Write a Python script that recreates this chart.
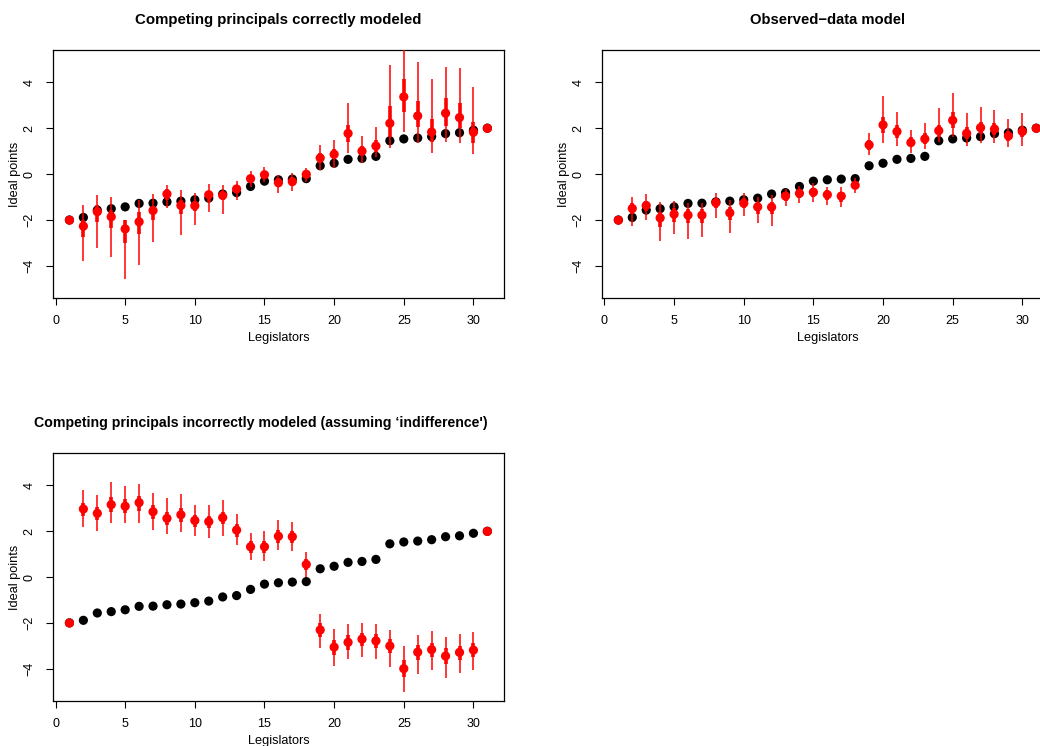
import pandas as pd, numpy as np, seaborn as sns
import matplotlib.pyplot as plt

# legislators and their true ideal points (black)
legislators = list(range(1, 32))
true_points = [-2.0, -1.89, -1.57, -1.51, -1.43, -1.28, -1.27, -1.21, -1.18, -1.12,
               -1.05, -0.87, -0.81, -0.54, -0.31, -0.25, -0.22, -0.20, 0.36, 0.47,
               0.64, 0.68, 0.77, 1.45, 1.53, 1.57, 1.63, 1.76, 1.80, 1.91, 2.0]

# panel 1: competing principals correctly modeled (zoom px -> value)
def px(vals, zero=402, unit=68.75):
    return [None if v is None else round((zero - v) / unit, 2) for v in vals]

correct_mean = px([540, 558, 515, 530, 566, 545, 511, 462, 496, 497, 464, 466, 447, 416, 404,
                   428, 425, 403, 354, 343, 280, 333, 318, 250, 171, 228, 276, 220, 233, 277, 265])
correct_thin_hi = px([None, 495, 465, 471, 538, 480, 461, 435, 449, 460, 432, 435, 422, 393, 382,
                      405, 400, 383, 315, 300, 190, 288, 260, 75, 0, 65, 117, 80, 85, 142, None])
correct_thin_lo = px([None, 662, 623, 650, 716, 673, 606, 505, 584, 556, 516, 520, 480, 440, 425,
                      458, 452, 425, 390, 385, 340, 368, 350, 325, 275, 308, 340, 305, 310, 342, None])
correct_thick_hi = px([None, 540, 495, 510, 540, 517, 497, 448, 480, 483, 455, 455, 437, 405, 393,
                       415, 412, 393, 340, 328, 255, 318, 300, 198, 118, 183, 238, 173, 190, 245, None])
correct_thick_lo = px([None, 592, 545, 562, 608, 580, 540, 478, 522, 512, 485, 478, 460, 428, 415,
                       442, 438, 413, 368, 358, 305, 348, 335, 290, 215, 262, 305, 258, 265, 308, None])

# panel 2: observed-data model
observed_mean = px([540, 505, 496, 533, 522, 525, 525, 488, 518, 489, 500, 501, 468, 460, 456,
                    464, 468, 436, 315, 255, 275, 308, 297, 272, 241, 280, 263, 267, 288, 275, 265])
observed_thin_hi = px([None, 470, 462, 485, 483, 488, 490, 458, 478, 460, 470, 465, 445, 438, 430,
                       440, 442, 415, 280, 167, 215, 270, 250, 205, 160, 220, 200, 210, 237, 220, None])
observed_thin_lo = px([None, 558, 540, 602, 583, 595, 590, 535, 578, 528, 548, 557, 497, 488, 485,
                       494, 502, 458, 345, 308, 318, 338, 328, 305, 290, 318, 308, 308, 322, 318, None])
observed_thick_hi = px([None, 490, 482, 515, 505, 508, 508, 475, 500, 475, 485, 485, 455, 448, 443,
                        450, 455, 425, 300, 230, 255, 292, 280, 255, 215, 262, 245, 250, 272, 258, None])
observed_thick_lo = px([None, 520, 512, 560, 545, 550, 550, 505, 540, 505, 520, 522, 482, 475, 470,
                        480, 485, 447, 330, 280, 295, 322, 312, 290, 265, 298, 282, 285, 302, 292, None])

# panel 3: competing principals incorrectly modeled
def px3(vals):
    return px(vals, zero=411, unit=68.7)

wrong_mean = px3([549, 207, 220, 194, 199, 188, 215, 235, 224, 241, 245, 233, 270, 320, 320,
                  289, 290, 373, 570, 621, 607, 597, 603, 618, 686, 636, 629, 648, 637, 630, 274])
wrong_thin_hi = px3([None, 150, 165, 127, 138, 132, 160, 175, 163, 195, 195, 180, 222, 280, 273,
                     240, 245, 337, 522, 568, 552, 550, 552, 570, 618, 585, 572, 592, 582, 575, None])
wrong_thin_lo = px3([None, 260, 273, 248, 250, 248, 270, 283, 275, 287, 293, 287, 315, 360, 363,
                     330, 332, 412, 623, 677, 658, 652, 658, 682, 755, 702, 690, 715, 698, 690, None])
wrong_thick_hi = px3([None, 188, 200, 170, 178, 168, 195, 215, 205, 225, 227, 215, 253, 303, 302,
                      270, 272, 357, 550, 600, 585, 578, 583, 597, 660, 615, 610, 625, 617, 610, None])
wrong_thick_lo = px3([None, 228, 240, 215, 220, 212, 238, 255, 245, 260, 265, 252, 290, 338, 340,
                      308, 308, 390, 592, 645, 630, 618, 625, 640, 710, 660, 652, 672, 660, 652, None])

titles = ["Competing principals correctly modeled",
          "Observed\u2212data model",
          "Competing principals incorrectly modeled (assuming \u2018indifference')"]

sns.set_style("white")
plt.rcParams['font.family'] = ['Liberation Sans', 'DejaVu Sans']
plt.rcParams['text.color'] = 'black'
plt.rcParams['axes.labelcolor'] = 'black'

fig = plt.figure(figsize=(10.4, 7.46), dpi=100)
positions = [[0.0507, 0.6005, 0.434, 0.3324],
             [0.5785, 0.6005, 0.434, 0.3324],
             [0.0507, 0.0607, 0.434, 0.3316]]
title_x = [0.5, 0.5, 0.46]
title_size = [10.8, 10.6, 10.2]
panels = [(correct_mean, correct_thin_lo, correct_thin_hi, correct_thick_lo, correct_thick_hi),
          (observed_mean, observed_thin_lo, observed_thin_hi, observed_thick_lo, observed_thick_hi),
          (wrong_mean, wrong_thin_lo, wrong_thin_hi, wrong_thick_lo, wrong_thick_hi)]

for i, (pos, title, (mean, tlo, thi, klo, khi)) in enumerate(zip(positions, titles, panels)):
    ax = fig.add_axes(pos)
    df = pd.DataFrame({'Legislators': legislators, 'true': true_points, 'est': mean,
                       'thin_lo': tlo, 'thin_hi': thi, 'thick_lo': klo, 'thick_hi': khi})
    bars = df.dropna()
    sns.scatterplot(data=df, x='Legislators', y='true', color='black', s=44,
                    edgecolor='none', ax=ax, zorder=2)
    ax.vlines(bars['Legislators'], bars['thin_lo'], bars['thin_hi'], color='#FF0000',
              linewidth=1.1, zorder=3)
    ax.vlines(bars['Legislators'], bars['thick_lo'], bars['thick_hi'], color='#FF0000',
              linewidth=2.6, zorder=3)
    sns.scatterplot(data=df, x='Legislators', y='est', color='#FF0000', s=44,
                    edgecolor='none', ax=ax, zorder=4)
    ax.set_xlim(-0.2, 32.2)
    ax.set_ylim(-5.4, 5.4)
    ax.set_xticks([0, 5, 10, 15, 20, 25, 30])
    ax.set_yticks([-4, -2, 0, 2, 4])
    ax.set_yticklabels(['\u22124', '\u22122', '0', '2', '4'], rotation=90, va='center')
    ax.tick_params(axis='both', direction='out', length=5, width=0.8, labelsize=9,
                   color='black', labelcolor='black', bottom=True, left=True, pad=7.5)
    for s in ax.spines.values():
        s.set_linewidth(0.9)
        s.set_color('black')
    ax.set_xlabel('Legislators', fontsize=9.2, labelpad=3.5)
    ax.set_ylabel('Ideal points', fontsize=9.2, labelpad=1.5)
    ax.set_title(title, fontsize=title_size[i], fontweight='bold', pad=19, x=title_x[i])
    ax.patch.set_facecolor('white')

fig.savefig('out.png', dpi=100)
